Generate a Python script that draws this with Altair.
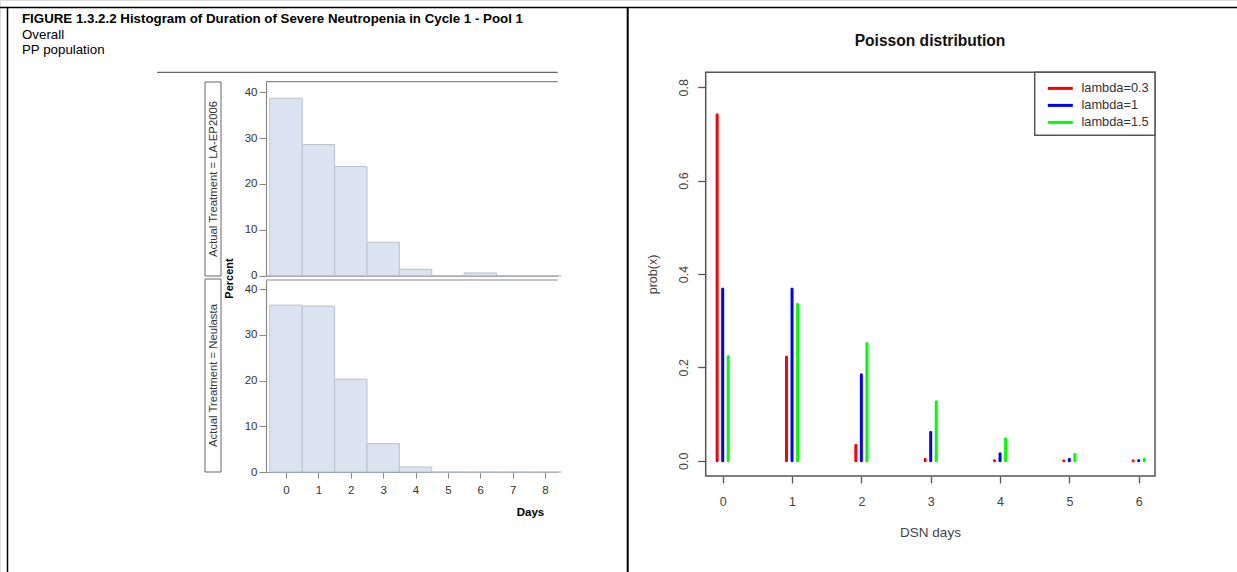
import altair as alt
import pandas as pd

FONT = "Liberation Sans"

# ---------------- data ----------------
days = [0, 1, 2, 3, 4, 5, 6, 7, 8]
pct_la_ep2006 = [38.7, 28.6, 23.8, 7.3, 1.4, 0.0, 0.6, 0.0, 0.0]
pct_neulasta = [36.5, 36.3, 20.3, 6.2, 1.1, 0.0, 0.0, 0.0, 0.0]
day_ticks = [0, 1, 2, 3, 4, 5, 6, 7, 8]
pct_ticks = [0, 10, 20, 30, 40]

dsn_days = [0, 1, 2, 3, 4, 5, 6]
series_names = ["lambda=0.3", "lambda=1", "lambda=1.5"]
prob_l03 = [0.741, 0.222, 0.033, 0.003, 0.0003, 0.0, 0.0]
prob_l1 = [0.368, 0.368, 0.184, 0.061, 0.015, 0.003, 0.0005]
prob_l15 = [0.223, 0.335, 0.251, 0.126, 0.047, 0.014, 0.0035]
series_colors = ["#ff0000", "#0000ff", "#00ff00"]
series_shift = [-0.08, 0.0, 0.08]
prob_ticks = [0.0, 0.2, 0.4, 0.6, 0.8]

# ---------------- tables ----------------
df_la = pd.DataFrame({"day": days, "pct": pct_la_ep2006})
df_neu = pd.DataFrame({"day": days, "pct": pct_neulasta})
rows = []
for name, vals, sh in zip(series_names, [prob_l03, prob_l1, prob_l15], series_shift):
    for d, v in zip(dsn_days, vals):
        rows.append({"series": name, "day": d, "xpos": d + sh, "prob": v})
df_p = pd.DataFrame(rows)
one = pd.DataFrame({"k": [0]})


def hline(x1, x2, y, color, w):
    return alt.Chart(one).mark_rule(color=color, strokeWidth=w).encode(
        x=alt.value(x1), x2=alt.value(x2), y=alt.value(y))


def vline(x, y1, y2, color, w):
    return alt.Chart(one).mark_rule(color=color, strokeWidth=w).encode(
        x=alt.value(x), y=alt.value(y1), y2=alt.value(y2))


def label(text, x, y, size, weight="normal", angle=0, align="left", color="#000000"):
    return alt.Chart(one).mark_text(
        text=text, fontSize=size, fontWeight=weight, angle=angle, align=align,
        baseline="middle", color=color, font=FONT).encode(x=alt.value(x), y=alt.value(y))


def box(x1, x2, y1, y2, stroke, w, fill="#ffffff", fill_opacity=1.0):
    return alt.Chart(one).mark_rect(fill=fill, fillOpacity=fill_opacity, stroke=stroke, strokeWidth=w).encode(
        x=alt.value(x1), x2=alt.value(x2), y=alt.value(y1), y2=alt.value(y2))


layers = []

# table borders
layers.append(hline(0, 1237, 7.5, "#000000", 1.5))
layers.append(vline(7.5, 7, 572, "#000000", 1.5))
layers.append(vline(627.7, 7, 572, "#000000", 2))

# ---------------- left panel ----------------
layers.append(label("FIGURE 1.3.2.2 Histogram of Duration of Severe Neutropenia in Cycle 1 - Pool 1",
                    22, 18.5, 13.3, weight="bold"))
layers.append(label("Overall", 22, 34.5, 13.3))
layers.append(label("PP population", 22, 50, 13.3))
layers.append(hline(157, 557.7, 72.3, "#666666", 1.2))

BAR_FILL = "#dae3ef"
BAR_STROKE = "#b6c1cf"
FRAME = "#888888"
TICKFS = 11.5
x_left = alt.Scale(domain=[-0.618, 8.39], range=[266, 557.7], zero=False, nice=False)

top_hist = alt.Chart(df_la).transform_calculate(
    lo="datum.day - 0.5", hi="datum.day + 0.5"
).mark_bar(fill=BAR_FILL, stroke=BAR_STROKE, strokeWidth=1).encode(
    x=alt.X("lo:Q", scale=x_left,
            axis=alt.Axis(orient="bottom", offset=275.7 - 572, labels=False, ticks=False,
                          domainColor=FRAME, domainWidth=1.2, grid=False, title=None)),
    x2="hi:Q",
    y=alt.Y("pct:Q", scale=alt.Scale(domain=[0, 42.3], range=[275.7, 81.7], nice=False),
            axis=alt.Axis(orient="left", offset=-266, values=pct_ticks, grid=False,
                          domainColor=FRAME, domainWidth=1.2, tickColor=FRAME, tickSize=7,
                          labelFontSize=TICKFS, labelColor="#333333", labelFont=FONT, labelPadding=2,
                          title="Percent", titleX=-37, titleY=278, titleAngle=270,
                          titleFont=FONT, titleFontSize=11, titleFontWeight="bold",
                          titleAlign="center", titleBaseline="middle", titleColor="#000000")),
    y2=alt.datum(0),
)

bot_hist = alt.Chart(df_neu).transform_calculate(
    lo="datum.day - 0.5", hi="datum.day + 0.5"
).mark_bar(fill=BAR_FILL, stroke=BAR_STROKE, strokeWidth=1).encode(
    x=alt.X("lo:Q", scale=x_left,
            axis=alt.Axis(orient="bottom", offset=472 - 572, values=day_ticks, grid=False,
                          domainColor=FRAME, domainWidth=1.2, tickColor=FRAME, tickSize=6,
                          labelFontSize=TICKFS, labelColor="#333333", labelFont=FONT, labelPadding=6.5,
                          title="Days", titleX=530, titleY=40, titleFont=FONT, titleFontSize=11.5,
                          titleFontWeight="bold", titleAlign="center", titleBaseline="middle",
                          titleColor="#000000")),
    x2="hi:Q",
    y=alt.Y("pct:Q", scale=alt.Scale(domain=[0, 42], range=[472, 280], nice=False),
            axis=alt.Axis(orient="left", offset=-266, values=pct_ticks, grid=False,
                          domainColor=FRAME, domainWidth=1.2, tickColor=FRAME, tickSize=7,
                          labelFontSize=TICKFS, labelColor="#333333", labelFont=FONT, labelPadding=2,
                          title=None)),
    y2=alt.datum(0),
)
layers.append(top_hist)
layers.append(bot_hist)
layers.append(hline(266, 557.7, 81.7, FRAME, 1.2))
layers.append(hline(266, 557.7, 280, FRAME, 1.2))

# strip labels
layers.append(box(205, 221, 82, 276, "#666666", 1))
layers.append(box(205, 221, 279, 472, "#666666", 1))
layers.append(label("Actual Treatment = LA-EP2006", 213.5, 179, 11.3, angle=270, align="center", color="#333333"))
layers.append(label("Actual Treatment = Neulasta", 213.5, 375.5, 11.3, angle=270, align="center", color="#333333"))

# ---------------- right panel ----------------
layers.append(label("Poisson distribution", 930, 41, 15.6, weight="bold", align="center", color="#111111"))
layers.append(box(705.7, 1155, 72.3, 476, "#555555", 1.5, fill_opacity=0.0))

pois = alt.Chart(df_p).mark_rule(strokeWidth=3, strokeCap="round").encode(
    x=alt.X("xpos:Q", scale=alt.Scale(domain=[-0.245, 6.235], range=[705.7, 1155], zero=False, nice=False),
            axis=alt.Axis(orient="bottom", offset=476 - 572, values=dsn_days, domain=False, grid=False,
                          tickColor="#555555", tickSize=7, tickWidth=1.3,
                          labelFontSize=12.5, labelColor="#444444", labelFont=FONT, labelPadding=12,
                          title="DSN days", titleX=930, titleY=56, titleFont=FONT, titleFontSize=13.5,
                          titleFontWeight="normal", titleAlign="center", titleBaseline="middle",
                          titleColor="#444444")),
    y=alt.Y("prob:Q", scale=alt.Scale(domain=[-0.0328, 0.832], range=[476, 72.3], zero=False, nice=False),
            axis=alt.Axis(orient="left", offset=-705.7, values=prob_ticks, format=".1f", domain=False,
                          grid=False, tickColor="#555555", tickSize=8, tickWidth=1.3,
                          labelAngle=270, labelAlign="center", labelBaseline="bottom",
                          labelFontSize=12.5, labelColor="#444444", labelFont=FONT, labelPadding=7.5,
                          title="prob(x)", titleX=-53.7, titleY=274, titleAngle=270, titleFont=FONT,
                          titleFontSize=12.5, titleFontWeight="normal", titleAlign="center",
                          titleBaseline="middle", titleColor="#444444")),
    y2=alt.datum(0),
    color=alt.Color("series:N", scale=alt.Scale(domain=series_names, range=series_colors),
                    legend=alt.Legend(orient="none", legendX=1046, legendY=82, title=None, padding=0,
                                      symbolType="M-4,0H4", symbolSize=39, symbolStrokeWidth=3,
                                      symbolOffset=7.9, labelOffset=14.75, labelFontSize=12.8,
                                      labelColor="#333333", labelFont=FONT, rowPadding=3.0,
                                      labelLimit=300)),
)
layers.append(box(1034.7, 1155, 72.3, 135.3, "#555555", 1.5))
layers.append(pois)

chart = alt.layer(*layers).resolve_scale(
    x="independent", y="independent", color="independent"
).properties(
    width=1237, height=572, padding=0, autosize=alt.AutoSizeParams(type="none")
).configure_view(stroke=None).configure(font=FONT, background="#ffffff")

chart.save("out.html", embed_options={"renderer": "svg", "actions": False})
